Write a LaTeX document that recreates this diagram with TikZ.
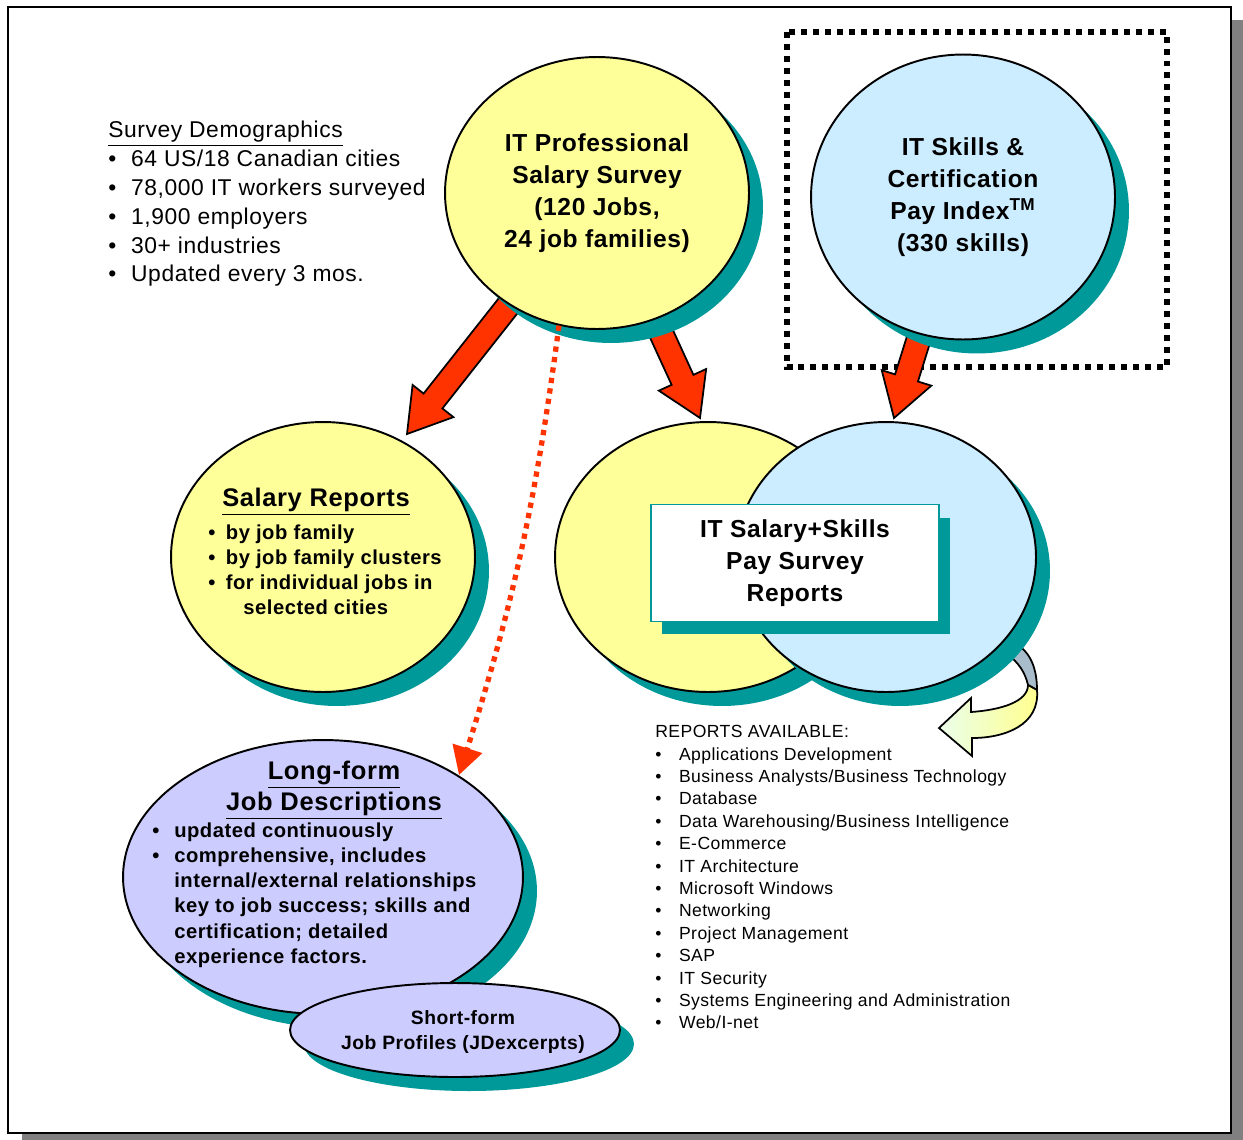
\documentclass[tikz,border=0pt]{standalone}
\usepackage{fontspec}
\setmainfont{Liberation Sans}[LetterSpace=2.5]
\usetikzlibrary{shapes.geometric,shadows,calc,backgrounds,arrows.meta}

\definecolor{paleyellow}{HTML}{FFFF99}
\definecolor{paleblue}{HTML}{CCECFF}
\definecolor{lavender}{HTML}{CCCCFF}
\definecolor{tealshade}{HTML}{009999}
\definecolor{arrowred}{HTML}{FF3300}
\definecolor{foldgray}{HTML}{A9BCCB}

\newcommand{\bul}[1]{\makebox[#1][l]{\textbullet}}

% big red block arrow from #1 to the tip #2
\newcommand{\bigarrow}[2]{%
  \coordinate (ah) at ($(#2)!0.84cm!(#1)$);
  \draw[redarrow] ($(#1)!0.24cm!90:(#2)$) -- ($(ah)!0.24cm!90:(#2)$)
    -- ($(ah)!0.52cm!90:(#2)$) -- (#2) -- ($(ah)!0.52cm!-90:(#2)$)
    -- ($(ah)!0.24cm!-90:(#2)$) -- ($(#1)!0.24cm!-90:(#2)$) -- cycle;}

\tikzset{
  bubble/.style={draw, ellipse, line width=1.1pt, inner sep=0pt, align=center,
    drop shadow={shadow xshift=0.28cm, shadow yshift=-0.28cm, fill=tealshade, opacity=1}},
  title/.style={font=\fontsize{14}{18.1}\selectfont\bfseries, align=center, inner sep=0pt},
  listbold/.style={font=\fontsize{11.5}{14.4}\selectfont\bfseries, align=left, inner sep=0pt},
  redarrow/.style={draw, fill=arrowred, line width=1pt, line join=miter},
  dotline/.style={arrowred, line width=3pt, dash pattern=on 3pt off 3pt,
    -{Triangle[width=0.6cm, length=0.56cm]}},
}

\begin{document}
\begin{tikzpicture}[x=0.02cm, y=-0.02cm]
\useasboundingbox (0,0) rectangle (1243,1139);

% ellipses
\node[bubble, fill=paleyellow, minimum width=6.08cm, minimum height=5.44cm, title] (survey) at (597,193)
  {IT Professional\\Salary Survey\\(120 Jobs,\\24 job families)};
\node[bubble, fill=paleblue, minimum width=6.08cm, minimum height=5.7cm, title] (skills) at (963,197)
  {IT Skills \&\\Certification\\Pay Index\textsuperscript{TM}\\(330 skills)};
\node[bubble, fill=paleyellow, minimum width=6.08cm, minimum height=5.4cm] (reports) at (323,557) {};
\node[bubble, fill=paleyellow, minimum width=6.12cm, minimum height=5.4cm] (combo) at (708,557) {};
\node[bubble, fill=paleblue, minimum width=6.0cm, minimum height=5.4cm] (combob) at (886,557) {};
\node[draw=tealshade, line width=1pt, fill=white, minimum width=5.76cm, minimum height=2.34cm, title,
  drop shadow={shadow xshift=0.22cm, shadow yshift=-0.26cm, fill=tealshade, opacity=1}] (box) at (795,563)
  {IT Salary+Skills\\Pay Survey\\Reports};
\node[bubble, fill=lavender, minimum width=8cm, minimum height=5.48cm] (longform) at (323,877) {};
\node[bubble, fill=lavender, minimum width=6.6cm, minimum height=1.88cm] (shortform) at (455,1030) {};

% texts
\node[anchor=north west, align=left, inner sep=0pt, font=\fontsize{13}{16.4}\selectfont] (demo) at (108,121)
  {\underline{Survey Demographics}\\
   \bul{13pt}64 US/18 Canadian cities\\
   \bul{13pt}78,000 IT workers surveyed\\
   \bul{13pt}1,900 employers\\
   \bul{13pt}30+ industries\\
   \bul{13pt}Updated every 3 mos.};
\node[title, font=\fontsize{14.5}{18}\selectfont\bfseries] (reptitle) at (316,502) {\underline{Salary Reports}};
\node[listbold, anchor=north west] (replist) at (208,524)
  {\bul{10pt}by job family\\
   \bul{10pt}by job family clusters\\
   \bul{10pt}for individual jobs in\\
   \makebox[20pt]{}selected cities};
\node[title, font=\fontsize{14.5}{18}\selectfont\bfseries] (longtitle) at (334,790)
  {\underline{Long-form}\\\underline{Job Descriptions}};
\node[listbold, anchor=north west] (longlist) at (152,822)
  {\bul{12.5pt}updated continuously\\
   \bul{12.5pt}comprehensive, includes\\
   \makebox[12.5pt]{}internal/external relationships\\
   \makebox[12.5pt]{}key to job success; skills and\\
   \makebox[12.5pt]{}certification; detailed\\
   \makebox[12.5pt]{}experience factors.};
\node[title, font=\fontsize{11}{14.7}\selectfont\bfseries] (shorttext) at (463,1032)
  {Short-form\\Job Profiles (JDexcerpts)};
\node[anchor=north west, align=left, inner sep=0pt, font=\fontsize{10}{12.75}\selectfont] (avail) at (655,725)
  {REPORTS AVAILABLE:\\
   \bul{13.5pt}Applications Development\\
   \bul{13.5pt}Business Analysts/Business Technology\\
   \bul{13.5pt}Database\\
   \bul{13.5pt}Data Warehousing/Business Intelligence\\
   \bul{13.5pt}E-Commerce\\
   \bul{13.5pt}IT Architecture\\
   \bul{13.5pt}Microsoft Windows\\
   \bul{13.5pt}Networking\\
   \bul{13.5pt}Project Management\\
   \bul{13.5pt}SAP\\
   \bul{13.5pt}IT Security\\
   \bul{13.5pt}Systems Engineering and Administration\\
   \bul{13.5pt}Web/I-net};

\coordinate (tipA) at (407,434);
\coordinate (tipB) at (700,418);
\coordinate (tipC) at (894,418);
\coordinate (tipD) at (459,775);

\begin{pgfonlayer}{background}
  % frame
  \fill[gray] (22,20) rectangle (1250,1150);
  \draw[fill=white, line width=1.2pt] (8,7) rectangle (1231,1133);
  \draw[line width=3.4pt, dash pattern=on 3.4pt off 3.4pt] (787,32) rectangle (1167,367);
  % arrows
  \bigarrow{survey.center}{tipA}
  \bigarrow{survey.center}{tipB}
  \bigarrow{skills.center}{tipC}
  % curved arrow
  \draw[fill=foldgray, line width=1pt] (1005,640) .. controls (1028,645) and (1037,665) .. (1037,690)
    -- (1028,685) .. controls (1025,672) and (1018,662) .. (1008,655) -- cycle;
  \draw[left color=green!8, right color=yellow!45, line width=1pt, line join=miter]
    (1037,690) .. controls (1040,725) and (1005,738) .. (972,738) -- (972,756) -- (939,728)
    -- (971,698) -- (971,712) .. controls (1000,710) and (1028,702) .. (1028,685) -- cycle;
\end{pgfonlayer}

\draw[dotline] (survey.254) to[bend left=5] (tipD);
\end{tikzpicture}
\end{document}
